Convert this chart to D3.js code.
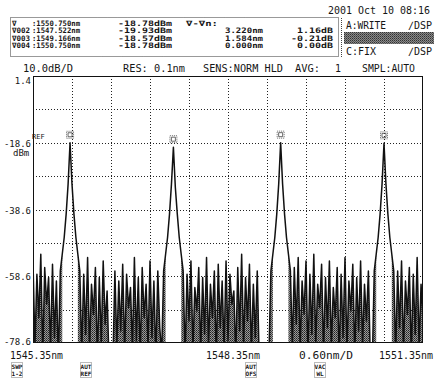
<!DOCTYPE html>
<html>
<head>
<meta charset="utf-8">
<script src="https://cdn.jsdelivr.net/npm/d3@7"></script>
<style>
  html, body { margin: 0; background: #fff; }
  svg { display: block; }
  text { font-family: "DejaVu Sans Mono", monospace; fill: #151515; }
</style>
</head>
<body>
<svg id="osa" width="434" height="380"></svg>
<script>
// sweep settings
const startNm = 1545.35, stopNm = 1551.35, stepNm = 0.03;
const topDbm = 1.4, bottomDbm = -78.6;

// trace levels (dBm), one per sample point
const levels = [
  -54, -80, -58, -71, -52, -83, -56, -67, -59, -81,
  -55, -77, -60, -84, -57, -52, -47, -40, -31, -18.6,
  -31, -40, -47, -52, -57, -82, -58, -76, -53, -81,
  -61, -70, -56, -84, -59, -79, -54, -73, -63, -85,
  -83, -84, -57, -80, -60, -75, -55, -82, -58, -68,
  -62, -81, -53, -78, -59, -83, -56, -71, -61, -80,
  -54, -77, -60, -84, -57, -74, -82, -57, -52, -47,
  -40, -31, -19.93, -32, -40, -47, -52, -57, -83, -58,
  -72, -54, -81, -62, -69, -56, -82, -59, -76, -53,
  -80, -61, -71, -57, -84, -55, -74, -60, -81, -54,
  -78, -58, -67, -63, -83, -56, -75, -52, -80, -59,
  -72, -55, -82, -61, -77, -57, -84, -85, -84, -86,
  -83, -82, -57, -52, -47, -40, -31, -18.57, -31, -40,
  -47, -52, -57, -80, -56, -73, -53, -81, -60, -70,
  -54, -83, -58, -76, -52, -79, -61, -68, -55, -82,
  -59, -74, -54, -80, -62, -71, -56, -84, -58, -77,
  -53, -81, -60, -69, -55, -83, -59, -75, -54, -80,
  -61, -72, -57, -84, -85, -57, -52, -47, -40, -31,
  -18.78, -31, -40, -47, -52, -57, -82, -57, -74, -54,
  -81, -60, -70, -56, -83, -58, -76, -53, -80, -61,
  -72
];

// markers sit on the four peaks
const markerPeakNm = [1545.92, 1547.51, 1549.16, 1550.75];

// grid and labels
const xGrid = [1545.95, 1546.55, 1547.15, 1547.75, 1548.35, 1548.95, 1549.55, 1550.15, 1550.75];
const yGrid = [-8.6, -18.6, -28.6, -38.6, -48.6, -58.6, -68.6];
const yLabels = [1.4, -18.6, -38.6, -58.6, -78.6];

// marker table
const markerNames = ['\u2207', '\u2207002', '\u2207003', '\u2207004'];
const markerWl = ['1550.750nm', '1547.522nm', '1549.166nm', '1550.750nm'];
const markerLvl = ['-18.78dBm', '-19.93dBm', '-18.57dBm', '-18.78dBm'];
const deltaWl = ['', '3.220nm', '1.584nm', '0.000nm'];
const deltaLvl = ['', '1.16dB', '-0.21dB', '0.00dB'];

const svg = d3.select('#osa');
const pl = 33, pr = 423, pt = 76, pb = 343;

const x = d3.scaleLinear().domain([startNm, stopNm]).range([pl, pr]);
const y = d3.scaleLinear().domain([bottomDbm, topDbm]).range([pb, pt]);

const defs = svg.append('defs');
const stip = defs.append('pattern')
  .attr('id', 'stip').attr('width', 2).attr('height', 2)
  .attr('patternUnits', 'userSpaceOnUse');
stip.append('rect').attr('width', 2).attr('height', 2).attr('fill', '#9a9a9a');
stip.append('rect').attr('width', 1).attr('height', 1).attr('fill', '#222');
stip.append('rect').attr('x', 1).attr('y', 1).attr('width', 1).attr('height', 1).attr('fill', '#444');

const dark = defs.append('pattern')
  .attr('id', 'dark').attr('width', 2).attr('height', 2)
  .attr('patternUnits', 'userSpaceOnUse');
dark.append('rect').attr('width', 2).attr('height', 2).attr('fill', '#8a8a8a');
dark.append('rect').attr('width', 1).attr('height', 1).attr('fill', '#333');
dark.append('rect').attr('x', 1).attr('y', 1).attr('width', 1).attr('height', 1).attr('fill', '#555');

defs.append('clipPath').attr('id', 'plot')
  .append('rect').attr('x', pl).attr('y', pt)
  .attr('width', pr - pl).attr('height', pb - pt);

// header
svg.append('text').attr('x', 430).attr('y', 14).attr('text-anchor', 'end')
  .attr('font-size', 10.5).attr('textLength', 102).attr('lengthAdjust', 'spacingAndGlyphs')
  .text('2001 Oct 10 08:16');

svg.append('rect').attr('x', 10.5).attr('y', 17.5).attr('width', 328).attr('height', 39)
  .attr('fill', 'none').attr('stroke', '#333').attr('stroke-dasharray', '1,1');

const rowY = [25.5, 33, 40.5, 48];
const tbl = svg.append('g').attr('font-size', 7.5).attr('font-weight', 'bold');
markerNames.forEach((m, i) => {
  const yy = rowY[i];
  tbl.append('text').attr('x', 12).attr('y', yy).text(m);
  tbl.append('text').attr('x', 32).attr('y', yy)
    .attr('textLength', 48).attr('lengthAdjust', 'spacingAndGlyphs').text(':' + markerWl[i]);
  tbl.append('text').attr('x', 118).attr('y', yy)
    .attr('textLength', 54).attr('lengthAdjust', 'spacingAndGlyphs').text(markerLvl[i]);
  if (deltaWl[i]) {
    tbl.append('text').attr('x', 263).attr('y', yy).attr('text-anchor', 'end')
      .attr('textLength', 38).attr('lengthAdjust', 'spacingAndGlyphs').text(deltaWl[i]);
    tbl.append('text').attr('x', 333).attr('y', yy).attr('text-anchor', 'end')
      .attr('textLength', deltaLvl[i].length * 6).attr('lengthAdjust', 'spacingAndGlyphs').text(deltaLvl[i]);
  }
});
tbl.append('text').attr('x', 186).attr('y', rowY[0])
  .attr('textLength', 32).attr('lengthAdjust', 'spacingAndGlyphs').text('\u2207-\u2207n:');

// right side trace panel
svg.append('line').attr('x1', 341.5).attr('x2', 341.5).attr('y1', 18).attr('y2', 57)
  .attr('stroke', '#444').attr('stroke-dasharray', '1,1');
const side = svg.append('g').attr('font-size', 10);
side.append('text').attr('x', 346).attr('y', 29).attr('textLength', 40)
  .attr('lengthAdjust', 'spacingAndGlyphs').text('A:WRITE');
side.append('text').attr('x', 432).attr('y', 29).attr('text-anchor', 'end').text('\u2215DSP');
svg.append('rect').attr('x', 344).attr('y', 32).attr('width', 90).attr('height', 12).attr('fill', 'url(#dark)');
side.append('text').attr('x', 346).attr('y', 55).attr('fill', '#666').text('C:FIX');
side.append('text').attr('x', 432).attr('y', 55).attr('fill', '#666').attr('text-anchor', 'end').text('\u2215DSP');

// settings row
const settings = [
  ['10.0dB/D', 23, 50], ['RES: 0.1nm', 123, 62], ['SENS:NORM HLD', 203, 80],
  ['AVG:', 295, 25], ['1', 335, 6], ['SMPL:AUTO', 362, 53]
];
settings.forEach(([t, sx, w]) => {
  svg.append('text').attr('x', sx).attr('y', 72).attr('font-size', 10)
    .attr('textLength', w).attr('lengthAdjust', 'spacingAndGlyphs').text(t);
});

// grid
const grid = svg.append('g').attr('stroke', '#222').attr('stroke-dasharray', '1,2');
grid.selectAll('.gx').data(xGrid).enter().append('line')
  .attr('x1', d => Math.round(x(d)) + 0.5).attr('x2', d => Math.round(x(d)) + 0.5)
  .attr('y1', pt).attr('y2', pb);
grid.selectAll('.gy').data(yGrid).enter().append('line')
  .attr('y1', d => Math.round(y(d)) + 0.5).attr('y2', d => Math.round(y(d)) + 0.5)
  .attr('x1', pl).attr('x2', pr);

// trace
const pts = levels.map((v, i) => [startNm + i * stepNm, v]);
const plot = svg.append('g').attr('clip-path', 'url(#plot)');
plot.append('path').datum(pts)
  .attr('fill', 'url(#stip)')
  .attr('d', d3.area().defined(d => d[1] <= -52)
    .x(d => x(d[0])).y0(y(bottomDbm - 10)).y1(d => y(d[1])));
plot.append('path').datum(pts)
  .attr('fill', 'none').attr('stroke', '#111').attr('stroke-width', 1.5)
  .attr('stroke-linejoin', 'round')
  .attr('d', d3.line().x(d => x(d[0])).y(d => y(d[1])));

// markers
markerPeakNm.forEach(nm => {
  const i = Math.round((nm - startNm) / stepNm);
  const cx = x(startNm + i * stepNm), cy = y(levels[i]) - 8;
  const g = svg.append('g').attr('fill', 'none').attr('stroke', '#444').attr('stroke-width', 0.8);
  g.append('rect').attr('x', cx - 3.5).attr('y', cy - 3.5).attr('width', 7).attr('height', 7)
    .attr('stroke-dasharray', '1,1');
  g.append('path').attr('d', `M${cx - 2},${cy - 2}h4v4h-4z`);
});

// frame
svg.append('rect').attr('x', pl + 0.5).attr('y', pt + 0.5)
  .attr('width', pr - pl - 1).attr('height', pb - pt - 1)
  .attr('fill', 'none').attr('stroke', '#111');

// level labels
svg.selectAll('.yl').data(yLabels).enter().append('text')
  .attr('x', 31).attr('text-anchor', 'end').attr('font-size', 9)
  .attr('y', d => d === topDbm ? y(d) + 8 : d === bottomDbm ? y(d) + 2 : y(d) + 4)
  .text(d => d.toFixed(1));
svg.append('text').attr('x', 32).attr('y', y(-18.6) - 4).attr('font-size', 7).text('REF');
svg.append('text').attr('x', 13).attr('y', y(-18.6) + 13).attr('font-size', 9).text('dBm');

// wavelength labels
const wl = [['1545.35nm', 10, 53], ['1548.35nm', 206, 54], ['0.60nm/D', 299, 54], ['1551.35nm', 379, 54]];
wl.forEach(([t, sx, w]) => {
  svg.append('text').attr('x', sx).attr('y', 359).attr('font-size', 10)
    .attr('textLength', w).attr('lengthAdjust', 'spacingAndGlyphs').text(t);
});

// soft keys
const keys = [['SWP', '1-2', 11], ['AUT', 'REF', 80], ['AUT', 'OFS', 245], ['VAC', 'WL', 314]];
keys.forEach(([a, b, kx]) => {
  svg.append('rect').attr('x', kx + 0.5).attr('y', 362.5).attr('width', 11).attr('height', 15)
    .attr('fill', 'none').attr('stroke', '#777').attr('stroke-dasharray', '1,1');
  svg.append('text').attr('x', kx + 6).attr('y', 369).attr('text-anchor', 'middle')
    .attr('font-size', 6).attr('font-weight', 'bold').text(a);
  svg.append('text').attr('x', kx + 6).attr('y', 376).attr('text-anchor', 'middle')
    .attr('font-size', 6).attr('font-weight', 'bold').text(b);
});
</script>
</body>
</html>
